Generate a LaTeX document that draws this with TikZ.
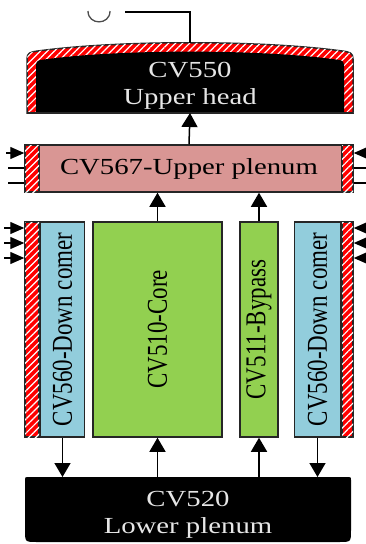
\documentclass[tikz,border=0pt]{standalone}
\usepackage{fontspec}
\setmainfont{Liberation Serif}
\usetikzlibrary{arrows.meta,positioning,calc,patterns.meta}
\definecolor{plenumpink}{HTML}{D99694}
\definecolor{dcblue}{HTML}{92CDDC}
\definecolor{coregreen}{HTML}{92D050}
\definecolor{lighttext}{HTML}{E6E6E6}
\newcommand{\wide}[1]{\scalebox{1.25}[1]{#1}}
\newcommand{\tall}[1]{\scalebox{1}[1.25]{#1}}
\tikzset{
  cvbox/.style={draw=black!85, line width=1.5pt, inner sep=0pt, font=\fontsize{23}{27}\selectfont},
  hatch/.style={fill=red, postaction={pattern={Lines[angle=45,distance=5pt,line width=1.2pt]}, pattern color=white}},
  strip/.style={cvbox, hatch, minimum height=215pt},
  arrow/.style={-{Triangle[length=14pt,width=16pt]}, line width=1.5pt},
  sidearrow/.style={-{Triangle[length=14pt,width=12pt]}, line width=1.3pt},
  sideline/.style={line width=1.3pt}
}
\begin{document}
\begin{tikzpicture}[x=1pt,y=-1pt]
\useasboundingbox (0,0) rectangle (366,544);
% upper head
\fill[hatch, draw=black!85, line width=1.5pt] (27,113) -- (27,59) .. controls (27,53) and (30,52) .. (38,51)
  .. controls (120,40) and (260,40) .. (342,51) .. controls (350,52) and (353,53) .. (353,59) -- (353,113) -- cycle;
\fill[black] (36,113) -- (36,66) .. controls (36,61) and (38,60) .. (44,59.5)
  .. controls (120,49) and (260,49) .. (336,59.5) .. controls (342,60) and (344,61) .. (344,66) -- (344,113) -- cycle;
\draw[black!85, line width=1.5pt] (27,113) -- (353,113);
\node[font=\fontsize{23}{27}\selectfont, text=lighttext, align=center] (head) at (190,86) {\wide{CV550}\\\wide{Upper head}};
\coordinate (headbot) at (190,113);
\coordinate (headtop) at (190,43);
% valve on top
\coordinate (valve) at (190,12);
\coordinate (valveend) at (125,12);
\draw[line width=1.3pt] (headtop) -- (valve) -- (valveend);
\draw[line width=1.3pt, black!70] (88,11) .. controls (88,25.5) and (110,25.5) .. (110,11);
% upper plenum
\node[cvbox, fill=plenumpink, minimum width=328pt, minimum height=47pt] (plenum) at (189,168.5) {\wide{CV567-Upper plenum}};
\node[cvbox, hatch, minimum width=14pt, minimum height=47pt, anchor=west] (plenumL) at (plenum.west) {};
\node[cvbox, hatch, minimum width=11pt, minimum height=47pt, anchor=east] (plenumR) at (plenum.east) {};
% down comers, core, bypass
\node[strip, minimum width=14pt] (dcLs) at (32,329.5) {};
\node[cvbox, fill=dcblue, minimum width=44pt, minimum height=215pt, right=0pt of dcLs] (dcL) {\rotatebox{90}{\tall{CV560-Down comer}}};
\node[cvbox, fill=coregreen, minimum width=129pt, minimum height=215pt] (core) at (157.5,329.5) {\rotatebox{90}{\tall{CV510-Core}}};
\node[cvbox, fill=coregreen, minimum width=38pt, minimum height=215pt] (bypass) at (259,329.5) {\rotatebox{90}{\tall{CV511-Bypass}}};
\node[strip, minimum width=11pt] (dcRs) at (347.5,329.5) {};
\node[cvbox, fill=dcblue, minimum width=46pt, minimum height=215pt, left=0pt of dcRs] (dcR) {\rotatebox{90}{\tall{CV560-Down comer}}};
% lower plenum
\fill[black] (28,477) -- (348,477) .. controls (351,477) .. (351,480) -- (351,530) .. controls (351,542) .. (339,542)
  -- (37,542) .. controls (25,542) .. (25,530) -- (25,480) .. controls (25,477) .. (28,477) -- cycle;
\node[font=\fontsize{23}{27}\selectfont, text=lighttext, align=center] (lower) at (188,515) {\wide{CV520}\\\wide{Lower plenum}};
\coordinate (lowtop) at (188,477);
% flow arrows
\draw[arrow] (plenum.north) -- (headbot);
\draw[arrow] (core.north) -- (core.north |- plenum.south);
\draw[arrow] (bypass.north) -- (bypass.north |- plenum.south);
\draw[arrow] (core.south |- lowtop) -- (core.south);
\draw[arrow] (bypass.south |- lowtop) -- (bypass.south);
\draw[arrow] (dcL.south) -- (dcL.south |- lowtop);
\draw[arrow] (dcR.south) -- (dcR.south |- lowtop);
% side connections
\coordinate (inL) at (6,153);
\coordinate (inR) at (366,153);
\draw[sidearrow] (inL) -- (inL -| plenumL.west);
\draw[sidearrow] (inR) -- (inR -| plenumR.east);
\foreach \y [count=\i] in {168,183} {
  \coordinate (lnL\i) at (8,\y);
  \coordinate (lnR\i) at (366,\y);
  \draw[sideline] (lnL\i) -- (lnL\i -| plenumL.west);
  \draw[sideline] (lnR\i) -- (lnR\i -| plenumR.east);
}
\foreach \y [count=\i] in {228,243,258} {
  \coordinate (dL\i) at (4,\y);
  \coordinate (dR\i) at (366,\y);
  \draw[sidearrow] (dL\i) -- (dL\i -| dcLs.west);
  \draw[sidearrow] (dR\i) -- (dR\i -| dcRs.east);
}
\end{tikzpicture}
\end{document}
